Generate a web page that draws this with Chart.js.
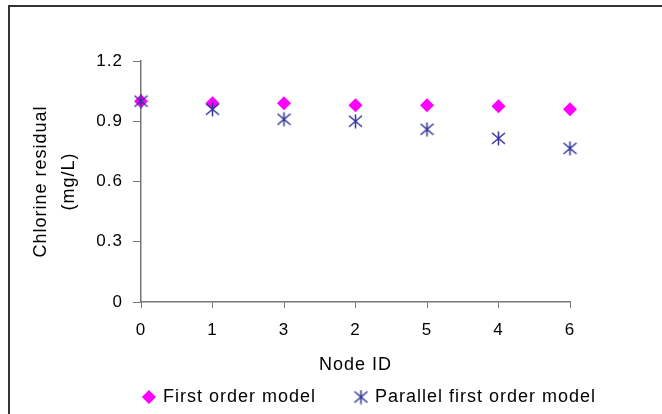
<!DOCTYPE html>
<html>
<head>
<meta charset="utf-8">
<script src="https://cdn.jsdelivr.net/npm/chart.js@4.4.1/dist/chart.umd.min.js"></script>
<style>
  html, body { margin: 0; padding: 0; background: #fff; overflow: hidden; width: 662px; height: 414px; }
  #wrap { position: relative; width: 662px; height: 414px; overflow: hidden; }
  #frame {
    position: absolute; left: 8px; top: 5px; width: 654px; height: 409px;
    border-left: 2px solid #333; border-top: 2px solid #333;
    box-sizing: border-box;
  }
  #chart { position: absolute; left: 0; top: 0; }
</style>
</head>
<body>
<div id="wrap">
  <div id="frame"></div>
  <canvas id="chart" width="740" height="414"></canvas>
</div>
<script>
const nodeIds = ["0", "1", "3", "2", "5", "4", "6"];
const firstOrder = [1.0, 0.99, 0.99, 0.98, 0.98, 0.975, 0.96];
const parallelFirstOrder = [1.0, 0.96, 0.91, 0.90, 0.86, 0.815, 0.765];
const yTicks = [0, 0.3, 0.6, 0.9, 1.2];

const AXIS = "#777";
const FONT = "'Liberation Sans', Arial, sans-serif";
Chart.defaults.font.family = FONT;
Chart.defaults.color = "#000";

// excel style asterisk: vertical bar plus an X
function makeAsterisk(color) {
  const c = document.createElement("canvas");
  c.width = 15;
  c.height = 15;
  const g = c.getContext("2d");
  g.strokeStyle = color;
  g.lineWidth = 1.5;
  g.beginPath();
  g.moveTo(7.5, 0.5); g.lineTo(7.5, 14.5);
  g.moveTo(1, 2); g.lineTo(14, 13);
  g.moveTo(14, 2); g.lineTo(1, 13);
  g.stroke();
  return c;
}

// the original text is a bit wider than Arial, space the letters slightly
const letterSpacing = {
  id: "letterSpacing",
  beforeLayout: (chart) => { chart.ctx.letterSpacing = "1px"; },
  beforeDraw: (chart) => { chart.ctx.letterSpacing = "1px"; },
};

new Chart(document.getElementById("chart"), {
  type: "line",
  data: {
    labels: nodeIds,
    datasets: [
      {
        label: "First order model",
        data: firstOrder,
        showLine: false,
        pointStyle: "rectRot",
        pointRadius: 7,
        pointBorderWidth: 0,
        backgroundColor: "#ff00ff",
        borderColor: "#ff00ff",
        order: 1,
      },
      {
        label: "Parallel first order model",
        data: parallelFirstOrder,
        showLine: false,
        pointStyle: makeAsterisk("#333399"),
        pointRadius: 7,
        backgroundColor: "#333399",
        borderColor: "#333399",
        order: 0,
      },
    ],
  },
  options: {
    responsive: false,
    animation: false,
    events: [],
    layout: { padding: { top: 61, left: 0, right: 0, bottom: 0 } },
    scales: {
      x: {
        type: "category",
        offset: false,
        afterFit: (s) => { s.height = 46; },
        grid: { offset: false, drawOnChartArea: false, tickLength: 6, color: AXIS },
        border: { color: AXIS, width: 1.5 },
        ticks: { padding: 12, font: { size: 17 }, maxRotation: 0, autoSkip: false },
        title: {
          display: true,
          text: "Node ID",
          font: { size: 18, lineHeight: 1.2 },
          padding: { top: 0, bottom: -28 },
        },
      },
      y: {
        min: 0,
        max: 1.2,
        afterFit: (s) => { s.width = 141; },
        afterBuildTicks: (s) => { s.ticks = yTicks.map((v) => ({ value: v })); },
        grid: { drawOnChartArea: false, tickLength: 8, color: AXIS },
        border: { color: AXIS, width: 1.5 },
        ticks: {
          padding: 10,
          font: { size: 17 },
          callback: (v) => String(+v.toFixed(1)),
        },
        title: {
          display: true,
          text: ["Chlorine residual", "(mg/L)"],
          font: { size: 18, lineHeight: 1.55 },
          padding: { top: 27, bottom: 0 },
        },
      },
      y2: {
        position: "right",
        afterFit: (s) => { s.width = 170; },
        ticks: { display: false },
        grid: { display: false },
        border: { display: false },
      },
    },
    plugins: {
      tooltip: { enabled: false },
      legend: {
        position: "bottom",
        maxHeight: 66,
        labels: {
          usePointStyle: true,
          boxWidth: 10,
          boxHeight: 10,
          padding: 40,
          color: "#000",
          font: { size: 18 },
          sort: (a, b) => a.datasetIndex - b.datasetIndex,
        },
      },
    },
  },
  plugins: [letterSpacing],
});
</script>
</body>
</html>
